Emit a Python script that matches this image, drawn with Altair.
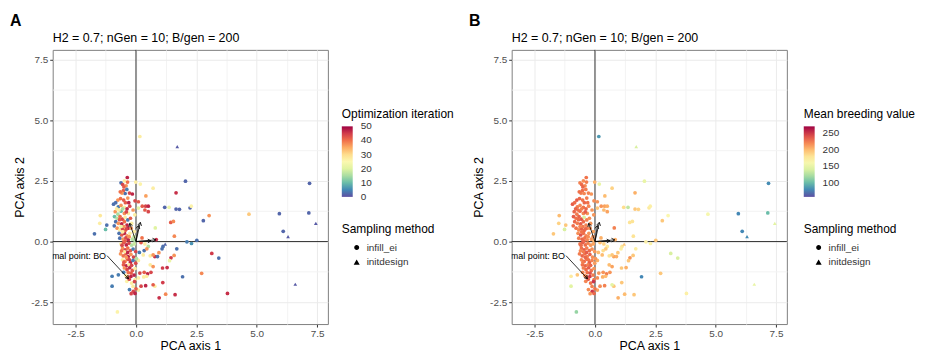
import altair as alt
import pandas as pd
import numpy as np

FONT = "Liberation Sans"
TITLE = "H2 = 0.7; nGen = 10; B/gen = 200"

# ---- infill_ei points: PCA axis 1, PCA axis 2, optimization iteration, mean breeding value
E_PC1 = [2.05, 7.19, 1.66, 1.19, 1.37, 1.66, 1.80, 2.24, 2.29, 4.68, 5.94, 7.16, 3.03, 2.79, 1.44, 1.55,
         0.80, 6.10, 1.59, 0.84, 2.11, 2.30, 2.52, 1.12, 1.08, 1.69, 0.95, 0.78, 0.89, 1.58, 1.45, 1.39,
         3.14, 3.43, 1.10, 1.29, 1.93, 2.72, 1.11, 0.78, 0.96, 1.23, 1.62, 3.79, 0.16,
         -1.72, -1.21, -1.26, -1.48, -1.50, -0.99, -0.99, -0.77,
         -0.36, -0.48, -0.62, -0.55, -0.41, -0.01, 0.18, 0.71, -0.52, -0.38, -0.45, -0.27, -0.15, -0.75,
         -0.64, -0.51, -0.34, -0.04, 0.41, 0.10, -0.93, -0.84, -0.73, -0.62, -0.48, -0.37, -0.26, -0.12,
         0.26, 0.40, 0.51, 0.37, 0.10, 0.51, -0.86, -0.75, -0.62, -0.48, -0.32, -0.89, -0.78, -0.66,
         -0.56, -0.45, -0.34, -0.23, -0.84, -0.73, -0.59, -0.48, -0.37, -0.18, -0.78, -0.67, -0.56, -0.45,
         -0.32, -0.70, -0.59, -0.48, -0.37, -0.25, -0.07, -0.67, -0.53, -0.42, -0.32, -0.15, -0.04, -0.62,
         -0.51, -0.40, -0.29, -0.18, -0.07, 0.21, 0.37, 0.51, -0.56, -0.45, -0.34, -0.23, -0.12, -0.01,
         0.34, -0.64, -0.53, -0.42, -0.32, -0.21, -0.10, 0.59, 0.71, -0.56, -0.45, -0.34, -0.23, -0.12,
         -0.01, 0.10, -0.52, -0.40, -0.29, 0.59, 0.71, -0.48, -0.37, -0.26, -0.15, -0.04, -0.51, 0.16,
         0.34, 0.48, 0.62, -0.73, -0.34, -0.21, -0.04, 0.10, 0.32, -0.18, -0.38, 0.21, 0.40, 0.71,
         -0.27, -0.11, -0.04, 0.10, 0.44, 0.14,
         -0.58, -0.44, -0.70, -0.55, -0.40, -0.68, -0.50, -0.62, -0.40, -0.55, -0.28, -0.45, -0.58, -0.35,
         -0.48, -0.60, -0.27, -0.40, -0.50, -0.18, -0.32, -0.20, -0.42, -0.08, -0.28, -0.12, 0.00, -0.20,
         0.02, -0.08, -0.20, -0.30, -0.50, -0.65, -0.80, -0.90, -0.35, -0.06, 0.30, 0.25, 0.45, -0.05]
E_PC2 = [2.49, 2.40, 2.01, 1.41, 1.41, 1.34, 1.33, 1.39, 1.46, 1.13, 1.15, 1.18, 1.07, 0.86, 0.79, 0.83,
         0.56, 0.42, 0.22, 0.08, -0.01, -0.08, 0.05, -0.20, -0.30, -0.30, -0.46, -0.62, -0.62, -0.57, -0.67, -0.79,
         -0.49, -0.68, -1.09, -1.07, -1.45, -1.31, -1.69, -1.84, -2.32, -2.17, -2.19, -2.14, 4.33,
         0.32, 0.68, 0.50, 1.07, 0.75, -1.43, -1.84, -2.90,
         2.64, 2.50, 2.42, 2.35, 2.30, 2.45, 2.37, 2.20, 2.10, 2.15, 1.98, 2.00, 1.96, 1.71,
         1.77, 1.71, 1.79, 1.68, 1.88, 1.64, 1.54, 1.60, 1.43, 1.49, 1.41, 1.35, 1.46, 1.30,
         1.46, 1.46, 1.46, 1.30, 1.38, 1.23, 1.23, 1.13, 1.25, 1.16, 1.16, 1.03, 0.96, 1.03,
         0.92, 1.00, 0.89, 0.96, 0.82, 0.75, 0.73, 0.82, 0.68, 0.75, 0.55, 0.48, 0.53, 0.45,
         0.55, 0.34, 0.27, 0.34, 0.23, 0.34, 0.41, 0.14, 0.10, 0.15, 0.07, 0.10, 0.04, -0.10,
         -0.04, -0.14, -0.07, -0.15, -0.10, -0.04, -0.10, -0.20, -0.27, -0.34, -0.27, -0.37, -0.31, -0.41,
         -0.37, -0.51, -0.59, -0.51, -0.62, -0.53, -0.64, -0.59, -0.55, -0.75, -0.82, -0.73, -0.86, -0.78,
         -0.89, -0.78, -0.96, -1.00, -0.96, -0.96, -1.03, -1.09, -1.16, -1.08, -1.19, -1.11, -1.27, -1.30,
         -1.27, -1.33, -1.27, -1.37, -1.46, -1.44, -1.57, -1.50, -1.46, -1.71, -1.64, -1.84, -1.82, -1.78,
         -1.98, -2.05, -2.14, -2.00, -1.43, -0.45,
         2.00, 1.60, 1.30, 1.35, 1.22, 0.90, 0.62, 0.62, 0.52, 0.40, 0.20, 0.02, -0.15, -0.45,
         -0.42, -0.38, -0.75, -0.65, -0.85, -0.98, -1.28, -1.30, -1.40, -1.38, -1.55, -1.85, -1.95, -2.15,
         -0.70, 0.20, 0.55, 1.60, 2.25, 2.05, 1.35, 0.65, 2.45, -1.65, -0.55, 0.15, -0.30, 1.10]
E_ITER = [2, 2, 46, 2, 22, 2, 2, 2, 26, 32, 2, 2, 37, 2, 42, 38,
          20, 2, 38, 46, 4, 6, 3, 3, 3, 3, 37, 46, 3, 37, 45, 22,
          45, 3, 45, 46, 3, 38, 45, 27, 46, 38, 46, 46, 27,
          3, 3, 10, 28, 27, 4, 4, 26,
          47, 27, 3, 44, 37, 27, 26, 27, 42, 4, 3, 44, 47, 37,
          40, 42, 37, 44, 36, 42, 3, 3, 4, 37, 27, 47, 44, 37,
          42, 44, 47, 42, 21, 44, 37, 15, 10, 37, 27, 10, 16, 40,
          44, 27, 4, 42, 3, 37, 47, 40, 47, 27, 37, 27, 44, 40,
          47, 3, 42, 47, 37, 27, 27, 3, 37, 44, 47, 16, 15, 27,
          42, 47, 44, 16, 18, 42, 27, 16, 37, 44, 40, 42, 4, 44,
          3, 37, 40, 42, 47, 37, 44, 27, 37, 27, 37, 42, 47, 4,
          44, 27, 42, 47, 27, 27, 37, 37, 44, 47, 42, 27, 4, 44,
          42, 47, 44, 4, 42, 47, 27, 26, 27, 27, 26, 44, 47, 42,
          4, 44, 47, 27, 27, 4,
          37, 42, 27, 15, 44, 42, 37, 22, 44, 27, 37, 42, 44, 47,
          27, 40, 44, 37, 42, 44, 40, 42, 27, 47, 44, 27, 42, 44,
          16, 18, 37, 47, 42, 40, 27, 3, 40, 44, 27, 40, 37, 27]
E_BV = [150, 80, 205, 185, 130, 195, 190, 175, 170, 160, 78, 100, 165, 195, 180, 180,
        222, 78, 180, 205, 170, 168, 195, 178, 172, 172, 195, 210, 205, 195, 215, 195,
        140, 140, 195, 205, 78, 195, 195, 195, 205, 200, 195, 170, 85,
        195, 195, 140, 200, 190, 175, 145, 115,
        227, 218, 222, 230, 218, 205, 150, 190, 230, 224, 220, 222, 215, 236,
        232, 227, 224, 218, 200, 215, 236, 230, 224, 220, 227, 232, 220, 215,
        215, 210, 205, 200, 195, 210, 232, 224, 230, 220, 215, 236, 228, 233,
        240, 140, 222, 218, 232, 224, 236, 230, 222, 215, 227, 220, 236, 232,
        224, 218, 240, 230, 222, 215, 210, 224, 232, 228, 220, 215, 205, 227,
        236, 230, 222, 215, 210, 200, 190, 175, 228, 236, 224, 230, 218, 215,
        185, 224, 232, 228, 222, 233, 218, 180, 195, 220, 232, 227, 236, 222,
        213, 205, 228, 233, 222, 200, 210, 224, 230, 236, 227, 215, 220, 215,
        215, 222, 215, 195, 232, 250, 224, 218, 205, 228, 220, 218, 222, 145,
        218, 252, 232, 210, 200, 200,
        224, 232, 228, 222, 236, 230, 224, 220, 232, 228, 218, 233, 230, 236,
        224, 220, 228, 232, 224, 232, 228, 240, 218, 224, 236, 222, 227, 215,
        215, 215, 218, 228, 232, 228, 233, 230, 224, 252, 200, 205, 195, 215]

# ---- initdesign points
I_PC1 = [7.45, 6.30, 1.21, 6.60, 1.71]
I_PC2 = [0.75, 0.20, -0.11, -1.76, 3.91]
I_ITER = [1, 1, 2, 1, 1]
I_BV = [145, 80, 195, 150, 140]

# ---- biplot loading arrows (from origin) and the optimal-point annotation
ARROW_X = [0.82, 0.62, -0.26, 0.18, 0.10]
ARROW_Y = [0.07, 0.03, 0.75, 0.79, 0.66]
BO_LABEL = "Optimal point: BO"
BO_FROM = (-1.20, -0.58)
BO_TO = (-0.31, -1.53)

PANEL_LABELS = ["A", "B"]
TICKS = [-2.5, -1.25, 0, 1.25, 2.5, 3.75, 5, 6.25, 7.5]
X_DOMAIN = [-3.45, 7.95]
Y_DOMAIN = [-3.4, 7.9]

pts = pd.concat([
    pd.DataFrame({"pc1": E_PC1, "pc2": E_PC2, "iter": E_ITER, "bv": E_BV, "method": "infill_ei"}),
    pd.DataFrame({"pc1": I_PC1, "pc2": I_PC2, "iter": I_ITER, "bv": I_BV, "method": "initdesign"}),
], ignore_index=True)

arr = pd.DataFrame({"x0": 0.0, "y0": 0.0, "x1": ARROW_X, "y1": ARROW_Y})
arr = pd.concat([arr, pd.DataFrame({"x0": [BO_FROM[0]], "y0": [BO_FROM[1]],
                                    "x1": [BO_TO[0]], "y1": [BO_TO[1]]})], ignore_index=True)
arr["angle"] = (np.degrees(np.arctan2(arr.x1 - arr.x0, arr.y1 - arr.y0)) + 360) % 360
lab = pd.DataFrame({"x": [BO_FROM[0] - 0.04], "y": [BO_FROM[1]], "t": [BO_LABEL]})
zero = pd.DataFrame({"v": [0]})

minor = "datum.value % 2.5 != 0"
def mk_axis(tp):
    return alt.Axis(values=TICKS,
                    labelExpr=f"{minor} ? '' : (datum.value < 0 ? '-' : '') + format(abs(datum.value), '.1f')",
                    gridColor={"condition": {"test": minor, "value": "#F3F3F3"}, "value": "#EBEBEB"},
                    tickColor={"condition": {"test": minor, "value": "transparent"}, "value": "#333333"},
                    labelOverlap=False, titlePadding=tp)

xs = alt.Scale(domain=X_DOMAIN, nice=False, zero=False)
ys = alt.Scale(domain=Y_DOMAIN, nice=False, zero=False)
def X(f):
    return alt.X(f, type="quantitative", scale=xs, axis=mk_axis(1), title="PCA axis 1")
def Y(f):
    return alt.Y(f, type="quantitative", scale=ys, axis=mk_axis(4), title="PCA axis 2")

HEAD = "M-0.6,1 L0,0 L0.6,1"

def panel(field, ctitle, cdomain, cvalues, letter, lx):
    points = alt.Chart(pts).mark_point(filled=True, size=14, opacity=1).encode(
        x=X("pc1"), y=Y("pc2"),
        color=alt.Color(f"{field}:Q",
                        scale=alt.Scale(scheme="spectral", reverse=True, domain=cdomain),
                        legend=alt.Legend(title=ctitle, orient="none", legendX=lx, legendY=60,
                                          direction="vertical", gradientLength=71, gradientThickness=11,
                                          values=cvalues, format="d", labelOffset=8, titlePadding=5,
                                          gradientStrokeWidth=0, labelBaseline="middle")),
        shape=alt.Shape("method:N",
                        scale=alt.Scale(domain=["infill_ei", "initdesign"], range=["circle", "triangle-up"]),
                        legend=alt.Legend(title="Sampling method", orient="none", legendX=lx, legendY=175,
                                          direction="vertical", symbolFillColor="black",
                                          symbolStrokeColor="black", symbolSize=12, symbolOffset=10,
                                          labelOffset=5, rowPadding=5, titlePadding=7)),
    )
    vline = alt.Chart(zero).mark_rule(color="#333333", strokeWidth=1).encode(x=X("v"))
    hline = alt.Chart(zero).mark_rule(color="#333333", strokeWidth=1).encode(y=Y("v"))
    segs = alt.Chart(arr).mark_rule(color="black", strokeWidth=0.8).encode(
        x=X("x0"), y=Y("y0"), x2="x1", y2="y1")
    heads = alt.Chart(arr).mark_point(shape=HEAD, filled=False, stroke="black", strokeWidth=0.8,
                                      size=40, opacity=1).encode(
        x=X("x1"), y=Y("y1"), angle=alt.Angle("angle:Q", scale=None))
    text = alt.Chart(lab).mark_text(align="right", baseline="middle", fontSize=9, font=FONT,
                                    color="black", clip=True).encode(x=X("x"), y=Y("y"), text="t:N")
    hdr = pd.DataFrame({"p": [letter], "t": [TITLE]})
    letter_t = alt.Chart(hdr).mark_text(
        align="left", baseline="alphabetic", fontSize=16, fontWeight="bold", font=FONT, color="black"
    ).encode(x=alt.value(-43), y=alt.value(-24), text="p:N")
    title_t = alt.Chart(hdr).mark_text(
        align="left", baseline="alphabetic", fontSize=12.5, font=FONT, color="black"
    ).encode(x=alt.value(0), y=alt.value(-8), text="t:N")
    return alt.layer(vline, hline, points, segs, heads, text, letter_t, title_t).properties(
        width=277, height=276)

pA = panel("iter", "Optimization iteration", [-0.02, 50.02], [0, 10, 20, 30, 40, 50], PANEL_LABELS[0], 291)
pB = panel("bv", "Mean breeding value", [57, 271], [100, 150, 200, 250], PANEL_LABELS[1], 294)

chart = alt.hconcat(pA, pB, spacing=13).resolve_scale(
    color="independent", shape="independent").resolve_legend(
    color="independent", shape="independent").properties(
    padding={"left": 1, "top": 3, "right": 0, "bottom": 0}, background="white"
).configure_view(stroke="#7F7F7F", strokeWidth=1).configure_axis(
    labelFont=FONT, labelFontSize=10, labelColor="#4D4D4D", titleFont=FONT, titleFontSize=12.5,
    titleColor="black", titleFontWeight="normal", tickSize=3, domain=False, labelPadding=2,
    gridWidth=1
).configure_legend(
    titleFont=FONT, titleFontSize=12, titleFontWeight="normal", titleColor="black",
    labelFont=FONT, labelFontSize=10, labelColor="#333333", labelOverlap=False, padding=0
)

chart.save("out.html", embed_options={"renderer": "svg", "actions": False})
